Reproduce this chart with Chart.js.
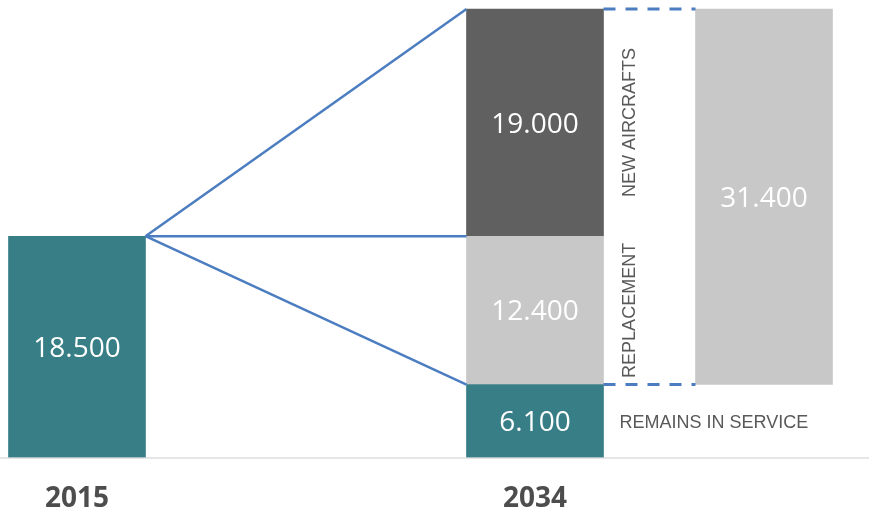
<!DOCTYPE html>
<html>
<head>
<meta charset="utf-8">
<script src="https://cdn.jsdelivr.net/npm/chart.js@4"></script>
<style>
  html, body { margin: 0; padding: 0; background: #fff; }
  #wrap { width: 869px; height: 515px; position: relative; }
</style>
</head>
<body>
<div id="wrap"><canvas id="fleet"></canvas></div>
<script>
// fleet figures (aircraft)
const yearLabels = ['2015', '2034'];
const fleet2015 = [18500];
const fleet2034 = [6100, 12400, 19000];          // remains in service, replacement, new aircrafts
const segmentNames = ['REMAINS IN SERVICE', 'REPLACEMENT', 'NEW AIRCRAFTS'];
const deliveries = [fleet2034[1] + fleet2034[2]]; // 31.400 new deliveries

// slot of each column on the x axis
const SLOT_2015 = 0, SLOT_2034 = 2, SLOT_TOTAL = 3;

const TEAL = '#387e86';
const DARK = '#606060';
const LIGHT = '#c8c8c8';
const BLUE = '#4b7dc0';

const remains = fleet2034[0];
const replTop = remains + fleet2034[1];
const newTop = replTop + fleet2034[2];

const fmt = n => String(n).replace(/\B(?=(\d{3})+(?!\d))/g, '.');

const barLabels = {
  id: 'barLabels',
  afterDatasetsDraw(chart) {
    const ctx = chart.ctx;
    ctx.save();
    ctx.fillStyle = '#ffffff';
    ctx.font = '28px "Open Sans"';
    ctx.textAlign = 'center';
    ctx.textBaseline = 'middle';
    chart.data.datasets.forEach((ds, i) => {
      chart.getDatasetMeta(i).data.forEach((el, j) => {
        const r = ds.data[j].y;
        ctx.fillText(fmt(r[1] - r[0]), el.x, (el.y + el.base) / 2 + 2);
      });
    });
    ctx.restore();
  }
};

const connectors = {
  id: 'connectors',
  afterDatasetsDraw(chart) {
    const ctx = chart.ctx;
    const y = chart.scales.y;
    const src = chart.getDatasetMeta(0).data[0];
    const mid = chart.getDatasetMeta(0).data[1];
    const tot = chart.getDatasetMeta(1).data[1];
    const x0 = src.x + src.width / 2;
    const x1 = mid.x - mid.width / 2;
    const x2 = mid.x + mid.width / 2;
    const x3 = tot.x - tot.width / 2;

    ctx.save();
    ctx.strokeStyle = BLUE;
    ctx.lineWidth = 2.5;
    [newTop, fleet2015[0], remains].forEach(v => {
      ctx.beginPath();
      ctx.moveTo(x0, src.y);
      ctx.lineTo(x1, y.getPixelForValue(v));
      ctx.stroke();
    });

    ctx.lineWidth = 3;
    ctx.setLineDash([12, 10]);
    [newTop, remains].forEach(v => {
      const py = y.getPixelForValue(v);
      ctx.beginPath();
      ctx.moveTo(x2, py);
      ctx.lineTo(x3, py);
      ctx.stroke();
    });
    ctx.setLineDash([]);

    // segment captions beside the 2034 column
    ctx.fillStyle = '#595959';
    ctx.font = '18px "Liberation Sans", Arial, sans-serif';
    ctx.textBaseline = 'middle';
    ctx.textAlign = 'left';
    ctx.fillText(segmentNames[0], x2 + 16, (y.getPixelForValue(0) + y.getPixelForValue(remains)) / 2 + 2);

    ctx.textAlign = 'center';
    [[segmentNames[1], remains, replTop], [segmentNames[2], replTop, newTop]].forEach(([t, a, b]) => {
      ctx.save();
      ctx.translate(x2 + 27, (y.getPixelForValue(a) + y.getPixelForValue(b)) / 2);
      ctx.rotate(-Math.PI / 2);
      ctx.fillText(t, 0, 0);
      ctx.restore();
    });
    ctx.restore();
  }
};

new Chart(document.getElementById('fleet'), {
  type: 'bar',
  data: {
    datasets: [
      {
        backgroundColor: TEAL,
        data: [
          { x: SLOT_2015, y: [0, fleet2015[0]] },
          { x: SLOT_2034, y: [0, remains] }
        ]
      },
      {
        backgroundColor: LIGHT,
        data: [
          { x: SLOT_2034, y: [remains, replTop] },
          { x: SLOT_TOTAL, y: [remains, remains + deliveries[0]] }
        ]
      },
      {
        backgroundColor: DARK,
        data: [
          { x: SLOT_2034, y: [replTop, newTop] }
        ]
      }
    ]
  },
  options: {
    responsive: true,
    maintainAspectRatio: false,
    animation: false,
    grouped: false,
    barThickness: 137,
    borderWidth: 0,
    layout: { padding: { top: 3, left: 0, right: 0, bottom: 0 } },
    plugins: { legend: { display: false }, tooltip: { enabled: false } },
    scales: {
      x: {
        type: 'linear',
        offset: false,
        min: -0.3362,
        max: 3.4585,
        grid: { display: false, drawTicks: false },
        border: { display: true, color: '#e6e6e6', width: 2 },
        afterBuildTicks: s => { s.ticks = [{ value: SLOT_2015 }, { value: SLOT_2034 }]; },
        afterFit: s => { s.height = 57.5; },
        ticks: {
          padding: 25,
          autoSkip: false,
          maxRotation: 0,
          color: '#4d4d4d',
          font: { family: 'Open Sans', size: 28, weight: 'bold' },
          callback: v => yearLabels[[SLOT_2015, SLOT_2034].indexOf(v)]
        }
      },
      y: {
        display: false,
        min: 0,
        max: 38000
      }
    }
  },
  plugins: [barLabels, connectors]
});
</script>
</body>
</html>
